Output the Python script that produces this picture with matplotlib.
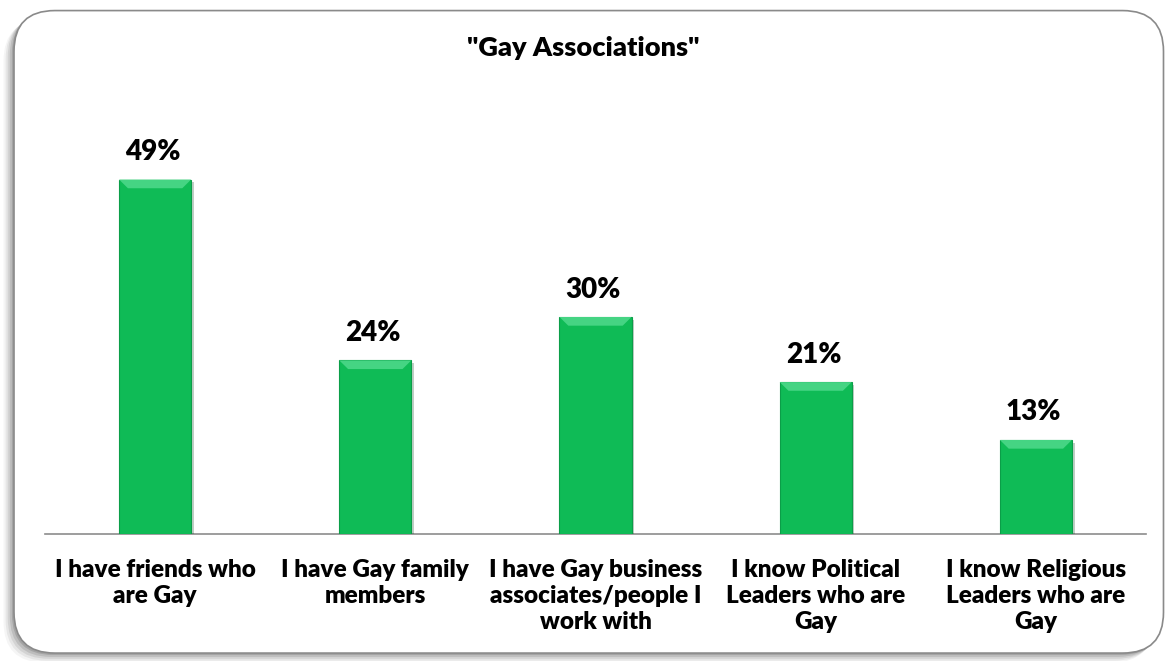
import matplotlib.pyplot as plt
import matplotlib.patheffects as pe
from matplotlib.patches import FancyBboxPatch, Polygon

categories = ["I have friends who\nare Gay", "I have Gay family\nmembers",
              "I have Gay business\nassociates/people I\nwork with",
              "I know Political\nLeaders who are\nGay", "I know Religious\nLeaders who are\nGay"]
values = [49, 24, 30, 21, 13]

plt.rcParams['font.family'] = ['Lato', 'DejaVu Sans']
WEIGHT = 'heavy'

fig = plt.figure(figsize=(11.67, 6.61), dpi=100)

# rounded panel with a soft shadow on the left/bottom
for i, a in enumerate([0.04, 0.06, 0.08, 0.10, 0.13]):
    off = (5 - i) * 0.0018
    sh = FancyBboxPatch((0.012 - off, 0.012 - off * 1.6), 0.985, 0.972,
                        boxstyle="round,pad=0,rounding_size=0.035",
                        transform=fig.transFigure, facecolor='black', alpha=a,
                        edgecolor='none', mutation_aspect=1167 / 661, zorder=-2)
    fig.patches.append(sh)
panel = FancyBboxPatch((0.012, 0.012), 0.985, 0.972,
                       boxstyle="round,pad=0,rounding_size=0.035",
                       transform=fig.transFigure, facecolor='white',
                       edgecolor='#8a8a8a', linewidth=1.2, mutation_aspect=1167 / 661,
                       zorder=-1)
fig.patches.append(panel)

ax = fig.add_axes([45 / 1167, 127 / 661, 1101 / 1167, 434 / 661])
ax.set_zorder(2)
ax.set_facecolor('none')
x = list(range(len(values)))
w = 0.327
bars = ax.bar(x, values, width=w, color='#0fbb56', edgecolor='#0b9e48', linewidth=0.8,
              zorder=3)
for b in bars:
    b.set_path_effects([pe.SimplePatchShadow(offset=(2, -2), alpha=0.25), pe.Normal()])
    bx, by, bw, bh = b.get_x(), b.get_y(), b.get_width(), b.get_height()
    d = 0.04  # bevel depth in data-x units
    dy = 1.2
    top = Polygon([(bx, by + bh), (bx + bw, by + bh), (bx + bw - d, by + bh - dy),
                   (bx + d, by + bh - dy)], closed=True, facecolor='#45d483',
                  edgecolor='none', zorder=4)
    ax.add_patch(top)
    ax.text(bx + bw / 2 - 0.01, bh + 2.0, f"{bh}%", ha='center', va='bottom',
            fontsize=20, fontweight=WEIGHT, color='black')

ax.set_xlim(-0.5, len(values) - 0.5)
ax.set_ylim(0, 60)
ax.set_yticks([])
ax.set_xticks(x)
ax.set_xticklabels(categories, fontsize=17.5, fontweight=WEIGHT, linespacing=1.22)
ax.tick_params(axis='x', length=0, pad=18)
for s in ['top', 'right', 'left']:
    ax.spines[s].set_visible(False)
ax.spines['bottom'].set_color('#8c8c8c')
ax.spines['bottom'].set_linewidth(1.2)

fig.text(0.5, 1 - 48 / 661, '"Gay Associations"', ha='center', va='center',
         fontsize=19.5, fontweight=WEIGHT)

fig.savefig('out.png', dpi=100)
